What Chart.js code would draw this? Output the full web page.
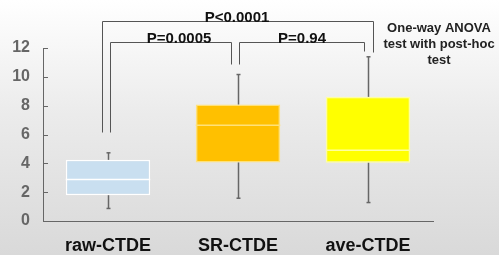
<!DOCTYPE html>
<html>
<head>
<meta charset="utf-8">
<script src="https://cdn.jsdelivr.net/npm/chart.js@4/dist/chart.umd.min.js"></script>
<style>
  html, body { margin: 0; padding: 0; }
  body { width: 499px; height: 255px; background: linear-gradient(#ffffff 0%, #ebebeb 45%, #d9d9d9 100%); }
  canvas { display: block; }
</style>
</head>
<body>
<canvas id="boxChart" width="499" height="255"></canvas>
<script>
// --- data ---
const groups = ["raw-CTDE", "SR-CTDE", "ave-CTDE"];
const mins = [0.87, 1.58, 1.28];
const q1s = [1.79, 4.06, 4.04];
const medians = [2.88, 6.64, 4.91];
const q3s = [4.24, 8.08, 8.61];
const maxs = [4.73, 10.16, 11.39];
const yTicks = [0, 2, 4, 6, 8, 10, 12];

// comparisons: [from group, to group, label]
const comparisons = [
  { from: 0, to: 2, label: "P<0.0001" },
  { from: 0, to: 1, label: "P=0.0005" },
  { from: 1, to: 2, label: "P=0.94" },
];
const noteLines = ["One-way ANOVA", "test with post-hoc", "test"];

const boxColors = ["#c9dff0", "#ffc000", "#ffff00"];
const boxBorders = ["#ffffff", "#ffe17a", "#ffff9e"];
const axisColor = "#666666";

// whiskers, medians, inside ticks, brackets and note
const boxExtras = {
  id: "boxExtras",
  afterDatasetsDraw(chart) {
    const ctx = chart.ctx;
    const xs = chart.scales.x;
    const ys = chart.scales.y;
    const meta = chart.getDatasetMeta(0);
    ctx.save();

    // whiskers
    ctx.strokeStyle = axisColor;
    ctx.lineWidth = 1.5;
    groups.forEach((g, i) => {
      const cx = Math.round(xs.getPixelForValue(i)) + 0.5;
      const pairs = [[q3s[i], maxs[i]], [q1s[i], mins[i]]];
      pairs.forEach(([a, b]) => {
        ctx.beginPath();
        ctx.moveTo(cx, ys.getPixelForValue(a));
        ctx.lineTo(cx, ys.getPixelForValue(b));
        ctx.stroke();
        ctx.beginPath();
        ctx.moveTo(cx - 2, ys.getPixelForValue(b));
        ctx.lineTo(cx + 2, ys.getPixelForValue(b));
        ctx.stroke();
      });
    });

    // medians
    groups.forEach((g, i) => {
      const bar = meta.data[i];
      const half = bar.width / 2;
      const y = ys.getPixelForValue(medians[i]);
      ctx.strokeStyle = boxBorders[i];
      ctx.lineWidth = 1.5;
      ctx.beginPath();
      ctx.moveTo(bar.x - half, y);
      ctx.lineTo(bar.x + half, y);
      ctx.stroke();
    });

    // inside tick marks on the y axis
    ctx.strokeStyle = axisColor;
    ctx.lineWidth = 1;
    yTicks.forEach(v => {
      const y = Math.round(ys.getPixelForValue(v)) + 0.5;
      ctx.beginPath();
      ctx.moveTo(xs.left, y);
      ctx.lineTo(xs.left + 5, y);
      ctx.stroke();
    });

    // significance brackets
    const px = (i, off) => Math.round(xs.getPixelForValue(i) + off) + 0.5;
    const py = v => Math.round(ys.getPixelForValue(v)) + 0.5;
    const bracketGeom = [
      { x1: px(0, -6), x2: px(2, 5), top: py(13.9), l: py(6.14), r: py(11.7), tx: xs.getPixelForValue(1) - 1 },
      { x1: px(0, 2), x2: px(1, -7), top: py(12.45), l: py(6.14), r: py(10.92), tx: 179 },
      { x1: px(1, 1), x2: px(2, -4), top: py(12.45), l: py(10.92), r: py(11.78), tx: 302 },
    ];
    ctx.strokeStyle = "#555555";
    ctx.lineWidth = 1;
    ctx.fillStyle = "#111111";
    ctx.font = "bold 15px 'Liberation Sans', Arial, sans-serif";
    ctx.textAlign = "center";
    ctx.textBaseline = "alphabetic";
    comparisons.forEach((c, k) => {
      const b = bracketGeom[k];
      ctx.beginPath();
      ctx.moveTo(b.x1, b.l);
      ctx.lineTo(b.x1, b.top);
      ctx.lineTo(b.x2, b.top);
      ctx.lineTo(b.x2, b.r);
      ctx.stroke();
      ctx.fillText(c.label, b.tx, b.top);
    });

    // note
    ctx.fillStyle = "#222222";
    ctx.font = "bold 13px 'Liberation Sans', Arial, sans-serif";
    noteLines.forEach((t, i) => {
      ctx.fillText(t, 439, 32 + i * 16);
    });

    ctx.restore();
  },
};

new Chart(document.getElementById("boxChart"), {
  type: "bar",
  data: {
    labels: groups,
    datasets: [
      {
        data: groups.map((g, i) => [q1s[i], q3s[i]]),
        backgroundColor: boxColors,
        borderColor: boxBorders,
        borderWidth: 1.5,
        borderSkipped: false,
        barPercentage: 0.65,
        categoryPercentage: 1,
      },
    ],
  },
  options: {
    responsive: false,
    animation: false,
    layout: { padding: { top: 48, right: 66, bottom: 0, left: 0 } },
    plugins: { legend: { display: false }, tooltip: { enabled: false } },
    scales: {
      x: {
        grid: { display: true, drawOnChartArea: false, drawTicks: false },
        border: { display: true, color: axisColor, width: 1 },
        ticks: {
          color: "#111111",
          padding: 14,
          font: { family: "'Liberation Sans', Arial, sans-serif", size: 18, weight: "bold" },
        },
        afterFit: s => { s.height = 34; },
      },
      y: {
        min: 0,
        max: 12,
        grid: { display: true, drawOnChartArea: false, drawTicks: false },
        border: { display: true, color: axisColor, width: 1 },
        afterBuildTicks: s => { s.ticks = yTicks.map(v => ({ value: v })); },
        ticks: {
          color: "#666666",
          padding: 13,
          font: { family: "'Liberation Sans', Arial, sans-serif", size: 16, weight: "bold" },
        },
        afterFit: s => { s.width = 43; },
      },
    },
  },
  plugins: [boxExtras],
});
</script>
</body>
</html>
